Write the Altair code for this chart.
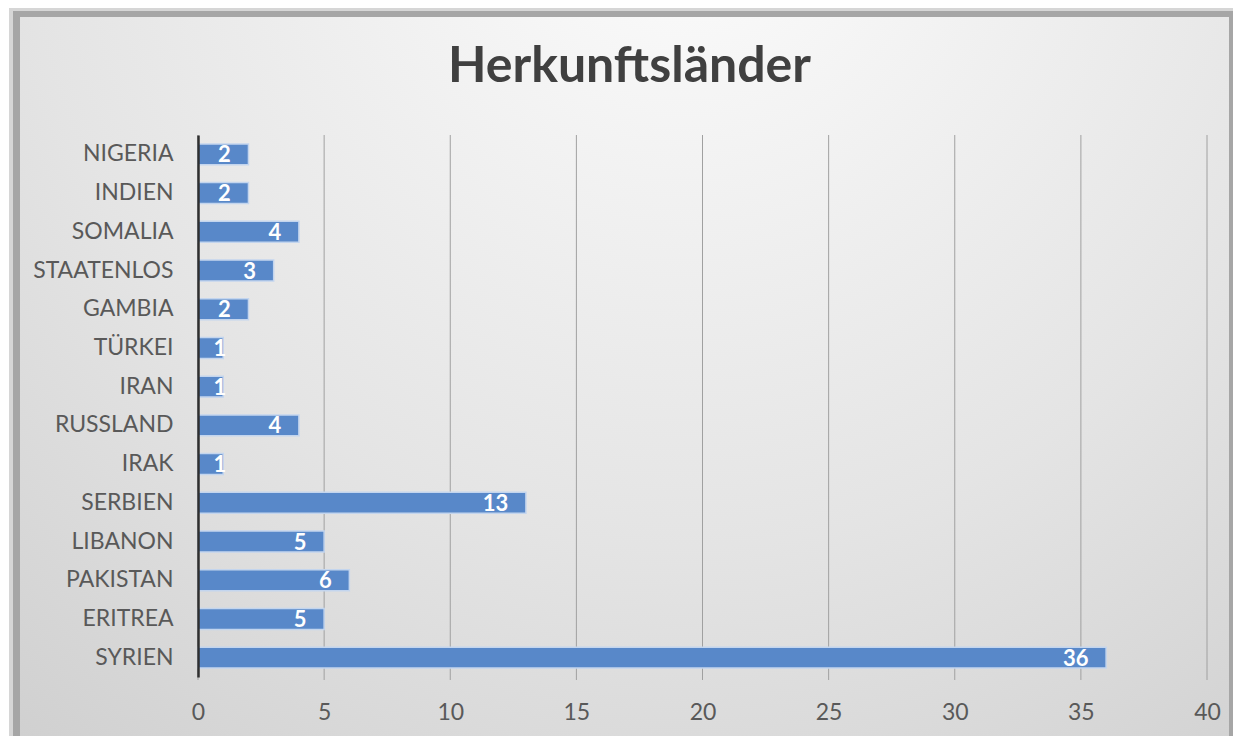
import altair as alt
import pandas as pd

# ---- data ----
countries = ["NIGERIA", "INDIEN\u00a0", "SOMALIA", "STAATENLOS", "GAMBIA", "TÜRKEI", "IRAN",
             "RUSSLAND", "IRAK", "SERBIEN", "LIBANON", "PAKISTAN", "ERITREA", "SYRIEN"]
values = [2, 2, 4, 3, 2, 1, 1, 4, 1, 13, 5, 6, 5, 36]
grid_ticks = [0, 5, 10, 15, 20, 25, 30, 35, 40]
title_text = "Herkunftsländer"

W, H = 1009, 542
FONT = "Lato"

df = pd.DataFrame({"land": countries, "anzahl": values})
ticks_df = pd.DataFrame({"anzahl": grid_ticks})
one = pd.DataFrame({"k": [0]})

xscale = alt.Scale(domain=[0, 40], nice=False, zero=True)
yscale = alt.Scale(domain=countries, paddingInner=0.46, paddingOuter=0.23)

xaxis = alt.Axis(values=grid_ticks, title=None, grid=False, domain=False, ticks=False,
                 labelFont=FONT, labelFontSize=23, labelColor="#595959",
                 labelPadding=24, labelFlush=False, labelOverlap=False, zindex=1)
yaxis = alt.Axis(title=None, ticks=False, grid=False, domain=True, domainColor="#2f2f2f",
                 domainWidth=2.5, labelFont=FONT, labelFontSize=23, labelColor="#595959",
                 labelPadding=25, zindex=1)


def box(fill, x, x2, y, y2):
    return alt.Chart(one).mark_rect(fill=fill).encode(
        x=alt.value(x), x2=alt.value(x2), y=alt.value(y), y2=alt.value(y2))


shadow_light = box("#d6d6d6", -189, 1040, -128, 700)
shadow_dark = box("#a6a6a6", -185, 1040, -124, 700)
panel = box({
    "gradient": "radial",
    "x1": 0.55, "y1": 0.05, "r1": 0,
    "x2": 0.55, "y2": 0.05, "r2": 1.0,
    "stops": [
        {"offset": 0, "color": "#fdfdfd"},
        {"offset": 0.55, "color": "#e4e4e4"},
        {"offset": 1, "color": "#cacaca"},
    ],
}, -178, 1031, -118, 700)

grid = alt.Chart(ticks_df).mark_rule(color="#a0a0a0", strokeWidth=1).encode(
    x=alt.X("anzahl:Q", scale=xscale, axis=xaxis),
    y=alt.value(0), y2=alt.value(H + 3))

bars = alt.Chart(df).mark_bar(color="#5888c9", stroke="#c3d5ee", strokeWidth=1.5).encode(
    x=alt.X("anzahl:Q", scale=xscale, axis=xaxis),
    y=alt.Y("land:N", scale=yscale, axis=yaxis, sort=countries))

labels = alt.Chart(df).transform_calculate(
    lx="datum.anzahl < 1.5 ? datum.anzahl + 0.12 : datum.anzahl - 0.7"
).mark_text(align="right", baseline="middle", color="white", font=FONT,
            fontWeight="bold", fontSize=22, dy=1).encode(
    x=alt.X("lx:Q", scale=xscale, axis=xaxis),
    y=alt.Y("land:N", scale=yscale, axis=yaxis, sort=countries),
    text=alt.Text("anzahl:Q"))

title = alt.Chart(one).mark_text(text=title_text, font=FONT, fontWeight="bold", fontSize=50,
                                 color="#404040", align="center", baseline="alphabetic").encode(
    x=alt.value(431.5), y=alt.value(-53))

chart = alt.layer(shadow_light, shadow_dark, panel, grid, bars, labels, title).properties(
    width=W, height=H,
    padding={"left": 190, "top": 127, "right": 26, "bottom": 59},
    autosize=alt.AutoSizeParams(type="none"),
    background="white",
).configure_view(stroke=None)

chart.save("out.html", embed_options={"renderer": "svg", "actions": False})
